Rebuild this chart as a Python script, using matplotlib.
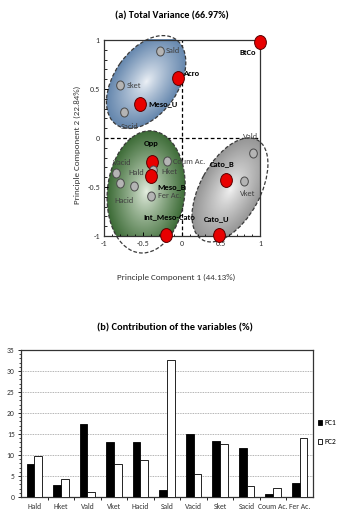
import numpy as np
import matplotlib
matplotlib.use("Agg")
import matplotlib.pyplot as plt
from matplotlib import font_manager
from matplotlib.patches import Ellipse, Patch
from matplotlib.path import Path
from matplotlib.transforms import Affine2D
from matplotlib.colors import LinearSegmentedColormap, to_rgb


def pick_font(candidates):
    for name in candidates:
        try:
            font_manager.findfont(font_manager.FontProperties(family=name),
                                  fallback_to_default=False)
            return name
        except Exception:
            continue
    return "DejaVu Sans"


FONT = pick_font(["Carlito", "Liberation Sans Narrow", "Open Sans", "Lato"])
plt.rcParams["font.family"] = [FONT, "DejaVu Sans"]

# ---- PCA scores (PC1, PC2) ----
names = ["BtCo", "Sald", "Acro", "Sket", "Meso_U", "Sacid", "Vald", "Opp",
         "Coum Ac.", "Hket", "Meso_B", "Vacid", "Hacid", "Hald", "Fer Ac.",
         "Cato_B", "Vket", "Int_Meso-Cato", "Cato_U"]
pc1 = [1.00, -0.28, -0.05, -0.80, -0.54, -0.75, 0.91, -0.39,
       -0.19, -0.37, -0.40, -0.85, -0.79, -0.62, -0.40,
       0.57, 0.80, -0.20, 0.47]
pc2 = [0.98, 0.89, 0.61, 0.54, 0.35, 0.27, -0.15, -0.24,
       -0.23, -0.33, -0.39, -0.36, -0.46, -0.49, -0.59,
       -0.43, -0.44, -0.99, -0.99]
is_site = [True, False, True, False, True, False, False, True,
           False, False, True, False, False, False, False,
           True, False, True, True]

# ---- contributions of the variables (%) ----
variables = ["Hald", "Hket", "Vald", "Vket", "Hacid", "Sald",
             "Vacid", "Sket", "Sacid", "Coum Ac.", "Fer Ac."]
contrib_pc1 = [7.9, 2.8, 17.4, 13.1, 13.2, 1.7, 15.0, 13.3, 11.6, 0.7, 3.3]
contrib_pc2 = [9.8, 4.4, 1.1, 7.8, 8.7, 32.7, 5.4, 12.7, 2.6, 2.1, 14.0]

# label placement (offset in pixels from the point, horizontal alignment)
label_offsets = {
    "BtCo": (-12, -11, "center"), "Sald": (6, 0, "left"),
    "Acro": (6, 5, "left"), "Sket": (7, 0, "left"),
    "Meso_U": (8, 0, "left"), "Sacid": (6, -15, "center"),
    "Vald": (-2, 16, "center"), "Opp": (0, 18, "center"),
    "Coum Ac.": (6, -1, "left"), "Hket": (8, -1, "left"),
    "Meso_B": (7, -10, "left"), "Vacid": (7, 11, "center"),
    "Hacid": (4, -17, "center"), "Hald": (3, 14, "center"),
    "Fer Ac.": (7, 0, "left"), "Cato_B": (-4, 17, "center"),
    "Vket": (3, -12, "center"), "Int_Meso-Cato": (3, 18, "center"),
    "Cato_U": (-2, 16, "center"),
}

# group outlines: centre and two conjugate semi-axes in data units
groups = [
    dict(c=(-0.46, 0.571), a=(0.382, 0.435), b=(0.336, -0.188),
         inner="#eef2f7", outer="#6486ad"),
    dict(c=(-0.46, -0.55), a=(0.082, 0.622), b=(0.494, -0.041),
         inner="#e6efe2", outer="#3c6b36"),
    dict(c=(0.615, -0.53), a=(0.351, 0.51), b=(0.337, -0.147),
         inner="#f2f2f2", outer="#959595"),
]

fig = plt.figure(figsize=(3.41, 5.18), dpi=100)

# ================= (a) score plot =================
ax = fig.add_axes([0.305, 0.5444, 0.4575, 0.3784])

gx = np.linspace(-1.25, 1.25, 300)
gy = np.linspace(-1.35, 1.25, 300)
GX, GY = np.meshgrid(gx, gy)
for g in groups:
    M = np.array([[g["a"][0], g["b"][0]], [g["a"][1], g["b"][1]]])
    Minv = np.linalg.inv(M)
    dx = GX - g["c"][0]
    dy = GY - g["c"][1]
    al = Minv[0, 0] * dx + Minv[0, 1] * dy
    be = Minv[1, 0] * dx + Minv[1, 1] * dy
    rho = np.clip(np.sqrt(al ** 2 + be ** 2), 0, 1)
    cmap = LinearSegmentedColormap.from_list(
        "g", [to_rgb(g["inner"]), to_rgb(g["outer"])])
    rgba = cmap(rho ** 0.85)
    tr = Affine2D(np.array([[g["a"][0], g["b"][0], g["c"][0]],
                            [g["a"][1], g["b"][1], g["c"][1]],
                            [0, 0, 1]]))
    ell = Ellipse((0, 0), 2, 2, transform=tr + ax.transData,
                  facecolor="none", edgecolor="#3a3a3a", lw=0.9,
                  linestyle=(0, (3, 1.6)), zorder=1.5, clip_on=False)
    ax.add_patch(ell)
    im = ax.imshow(rgba, extent=[gx[0], gx[-1], gy[0], gy[-1]],
                   origin="lower", aspect="auto", zorder=1,
                   interpolation="bilinear")
    im.set_clip_path(ell)
    im.set_clip_box(None)

ax.set_xlim(-1, 1)
ax.set_ylim(-1, 1)
ax.axhline(0, color="black", lw=0.9, ls=(0, (3, 2)), zorder=0.8)
ax.axvline(0, color="black", lw=0.9, ls=(0, (3, 2)), zorder=0.8)

oval = Path(Affine2D().scale(1.0, 1.18).transform(Path.unit_circle().vertices),
            Path.unit_circle().codes)
for name, x, y, site in zip(names, pc1, pc2, is_site):
    if site:
        ax.plot(x, y, marker=oval, ms=10, mfc="#e80000", mec="#5a0000",
                mew=0.7, zorder=3, clip_on=False)
    else:
        ax.plot(x, y, marker=oval, ms=6.5, mfc="#b4b4b4", mec="#4a4a4a",
                mew=0.7, zorder=3, clip_on=False)
    ox, oy, ha = label_offsets[name]
    ax.annotate(name, (x, y), xytext=(ox, oy), textcoords="offset pixels",
                ha=ha, va="center", fontsize=6,
                fontweight="bold" if site else "normal",
                color="black" if site else "#404040", zorder=4)

ax.set_xticks([-1, -0.5, 0, 0.5, 1])
ax.set_xticklabels(["-1", "-0.5", "0", "0.5", "1"])
ax.set_yticks([-1, -0.5, 0, 0.5, 1])
ax.set_yticklabels(["-1", "-0.5", "0", "0.5", "1"])
ax.set_xticks(np.arange(-1, 1.01, 0.1), minor=True)
ax.set_yticks(np.arange(-1, 1.01, 0.1), minor=True)
ax.tick_params(which="major", direction="in", length=3, width=0.7,
               labelsize=5.8, labelcolor="#333333", pad=3)
ax.tick_params(which="minor", direction="in", length=1.8, width=0.6)
for side, sp in ax.spines.items():
    sp.set_linewidth(0.9)
    sp.set_color("#333333")
    sp.set_zorder(2.5)

fig.text(172 / 341, 1 - 16 / 518, "(a) Total Variance (66.97%)",
         ha="center", va="center", fontsize=7.3, fontweight="bold")
fig.text(176 / 341, 1 - 277 / 518, "Principle Component 1 (44.13%)",
         ha="center", va="center", fontsize=6.5, color="#333333")
fig.text(77 / 341, 1 - 145 / 518, "Principle Component 2 (22.84%)",
         ha="center", va="center", fontsize=6.5, color="#333333",
         rotation=90)

# ================= (b) contributions =================
bx = fig.add_axes([0.0616, 0.0405, 0.8563, 0.2838])
pos = np.arange(len(variables))
w = 0.29
bx.bar(pos - w / 2, contrib_pc1, width=w, color="black",
       edgecolor="black", lw=0.6, zorder=3, label="PC1")
bx.bar(pos + w / 2, contrib_pc2, width=w, color="white",
       edgecolor="black", lw=0.6, zorder=3, label="PC2")
bx.set_xlim(-0.5, len(variables) - 0.5)
bx.set_ylim(0, 35)
bx.set_yticks(np.arange(0, 36, 5))
bx.set_yticks(np.arange(0, 36, 1), minor=True)
bx.set_xticks(pos)
bx.set_xticklabels(variables)
bx.set_xticks(np.arange(0.5, len(variables) - 0.5, 1), minor=True)
bx.tick_params(axis="x", which="major", length=0, labelsize=5.5, pad=4,
               labelcolor="#333333")
bx.tick_params(axis="x", which="minor", direction="out", length=2.5,
               width=0.6)
bx.tick_params(axis="y", which="major", direction="out", length=2.5,
               width=0.6, labelsize=5.5, labelcolor="#333333", pad=2)
bx.tick_params(axis="y", which="minor", direction="out", length=1.5,
               width=0.5)
bx.yaxis.grid(True, which="major", color="#9a9a9a", lw=0.6,
              ls=(0, (1, 1)), zorder=0)
for sp in bx.spines.values():
    sp.set_linewidth(0.9)
    sp.set_color("#333333")

fig.legend(handles=[Patch(facecolor="black", edgecolor="black", lw=0.6),
                    Patch(facecolor="white", edgecolor="black", lw=0.6)],
           labels=["PC1", "PC2"], loc="center left",
           bbox_to_anchor=(315 / 341, 1 - 432 / 518), frameon=False,
           fontsize=5.5, handlelength=0.55, handleheight=0.7,
           handletextpad=0.3, labelspacing=1.6, borderaxespad=0)

fig.text(175 / 341, 1 - 328 / 518, "(b) Contribution of the variables (%)",
         ha="center", va="center", fontsize=7.5, fontweight="bold")

fig.savefig("out.png", dpi=100)
